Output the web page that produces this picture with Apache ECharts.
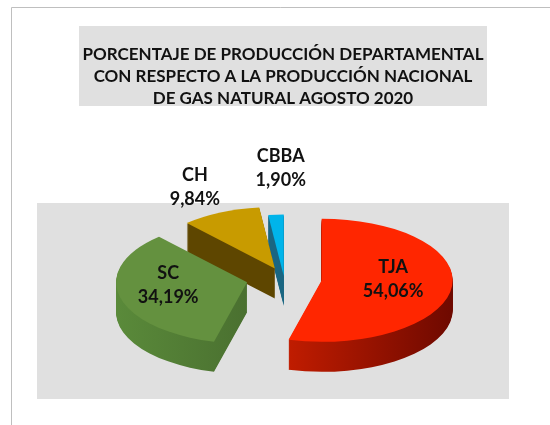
<!DOCTYPE html>
<html>
<head>
<meta charset="utf-8">
<script src="https://cdn.jsdelivr.net/npm/echarts@6/dist/echarts.min.js"></script>
<style>html,body{margin:0;padding:0;background:#fff}#c{width:550px;height:425px}</style>
</head>
<body>
<div id="c"></div>
<script>
// ---- data ----
const titleLines = ['PORCENTAJE DE PRODUCCIÓN DEPARTAMENTAL', 'CON RESPECTO A LA PRODUCCIÓN NACIONAL', 'DE GAS NATURAL AGOSTO 2020'];
const categories = ['TJA', 'SC', 'CH', 'CBBA'];
const values = [54.06, 34.19, 9.84, 1.90];

// ---- styling ----
const topColors = ['#ff2600', '#64913f', '#c89b00', '#00b4ea'];
const sideColors = [
  ['#c01c00', '#6e0900'],
  ['#5a8a3a', '#4a7030'],
  ['#5e4600', '#5e4600'],
  ['#1a6682', '#1a6682']
];
const explode = [38, 38, 22, 4];
const drawOrder = [3, 2, 1, 0];
const labelPlace = [
  {inside: 0.55, dx: 0, dy: -5},
  {inside: 0.62, dx: 0, dy: -6},
  {inside: null, dx: -80, dy: -81},
  {inside: null, dx: -3, dy: -108}
];
const CX = 284, CY = 278, R = 131, S = 0.47, DEPTH = 30;
const FONT = 'Lato, "Open Sans", sans-serif';

const total = values.reduce((a, b) => a + b, 0);
const fmt = v => v.toFixed(2).replace('.', ',') + '%';

function renderItem(params, api) {
  const i = params.dataIndex;
  const v = api.value(0);
  let start = 0;
  for (let j = 0; j < i; j++) start += values[j];
  const a0 = start / total * Math.PI * 2;
  const a1 = (start + v) / total * Math.PI * 2;
  const mid = (a0 + a1) / 2;
  const ax = CX + Math.sin(mid) * explode[i];
  const ay = CY - Math.cos(mid) * explode[i] * S;
  const shape = {cx: 0, cy: 0, r: R, r0: 0, startAngle: a0 - Math.PI / 2, endAngle: a1 - Math.PI / 2, clockwise: true};
  const base = drawOrder[i] * 100;
  const children = [];
  const side = new echarts.graphic.LinearGradient(0, 0, 1, 0, [
    {offset: 0, color: sideColors[i][0]}, {offset: 1, color: sideColors[i][1]}
  ]);
  for (let k = DEPTH; k >= 1; k--) {
    children.push({
      type: 'sector', shape: shape, x: ax, y: ay + k, scaleY: S,
      style: {fill: side}, z2: base + (DEPTH - k)
    });
  }
  children.push({
    type: 'sector', shape: shape, x: ax, y: ay, scaleY: S,
    style: {fill: topColors[i]}, z2: base + DEPTH + 1
  });
  const lp = labelPlace[i];
  let lx, ly;
  if (lp.inside != null) {
    lx = ax + Math.sin(mid) * R * lp.inside + lp.dx;
    ly = ay - Math.cos(mid) * R * lp.inside * S + lp.dy;
  } else {
    lx = ax + lp.dx; ly = ay + lp.dy;
  }
  children.push({
    type: 'text', z2: 1000,
    style: {
      text: categories[i] + '\n' + fmt(v), x: lx, y: ly,
      align: 'center', verticalAlign: 'middle',
      font: 'bold 18px ' + FONT, lineHeight: 24, fill: '#111'
    }
  });
  return {type: 'group', children: children};
}

const chart = echarts.init(document.getElementById('c'), null, {renderer: 'canvas'});
chart.setOption({
  backgroundColor: '#ffffff',
  animation: false,
  graphic: [
    {type: 'line', shape: {x1: 11.5, y1: 7.5, x2: 550, y2: 7.5}, style: {stroke: '#bfbfbf', lineWidth: 1}, z: -10},
    {type: 'line', shape: {x1: 11.5, y1: 7.5, x2: 11.5, y2: 425}, style: {stroke: '#bfbfbf', lineWidth: 1}, z: -10},
    {type: 'rect', shape: {x: 79, y: 26, width: 408, height: 80}, style: {fill: '#e0e0e0'}, z: -10},
    {type: 'rect', shape: {x: 37, y: 203, width: 472, height: 196}, style: {fill: '#e0e0e0'}, z: -10},
    {type: 'text', z: -5, style: {
      text: titleLines.join('\n'), x: 283, y: 77, align: 'center', verticalAlign: 'middle',
      font: 'bold 17px ' + FONT, lineHeight: 22, fill: '#111'
    }}
  ],
  series: [{
    type: 'custom',
    coordinateSystem: 'none',
    renderItem: renderItem,
    data: values.map(v => [v]),
    silent: true
  }]
});
</script>
</body>
</html>
